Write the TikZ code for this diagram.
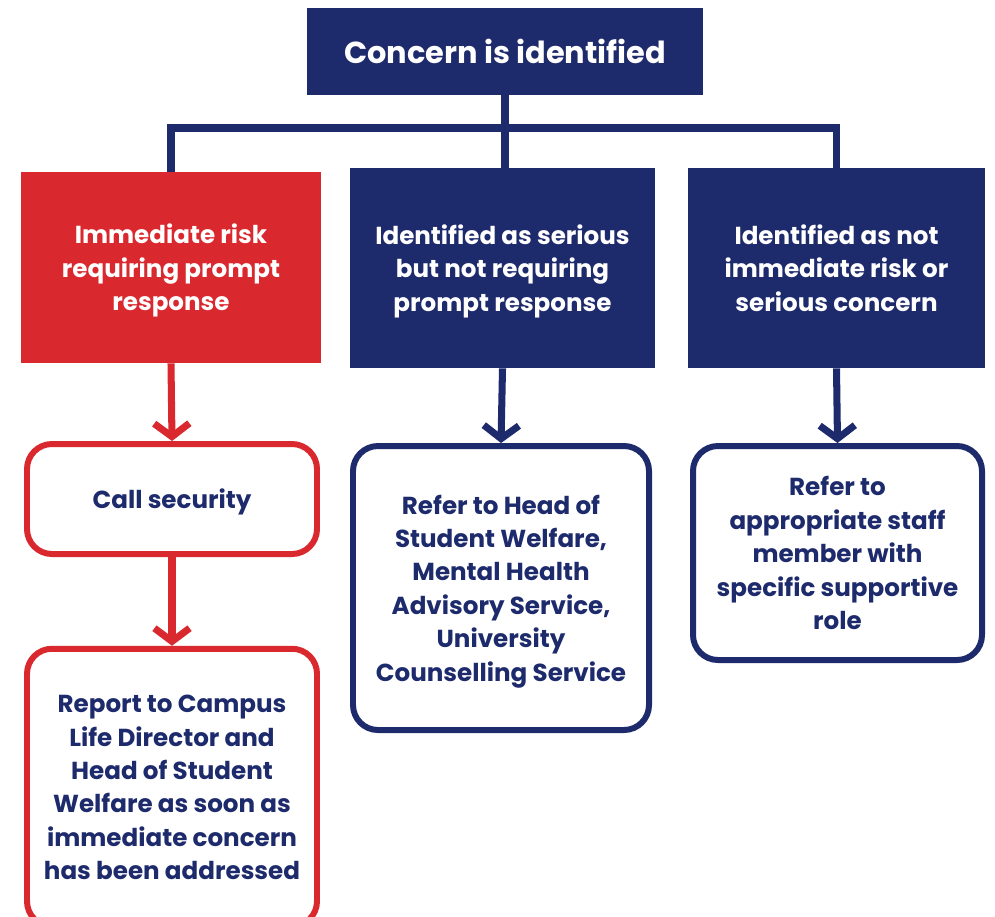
\documentclass[tikz,border=0pt]{standalone}
\usepackage{fontspec}
\setmainfont{Poppins}
\usetikzlibrary{arrows.meta,positioning}
\definecolor{navy}{HTML}{1D2A6B}
\definecolor{alarm}{HTML}{D9282E}

\begin{document}
\begin{tikzpicture}[
    every node/.style={align=center,font=\bfseries\fontsize{14}{19}\selectfont,inner sep=0pt},
    head/.style={fill=navy,text=white,minimum width=7.92cm,minimum height=1.74cm},
    lowered/.style={text depth=-2pt},
    level/.style={lowered,fill=#1,text=white,minimum height=4cm},
    action/.style={lowered,draw=#1,line width=3.4pt,rounded corners=0.5cm,fill=white,text=navy},
    link/.style={draw=navy,line width=4.4pt},
    arrow/.style={draw=#1,line width=4pt,-{Straight Barb[length=7.5pt,width=20pt,line width=4pt]}}
]
    \useasboundingbox (0,0) rectangle (19.9,-18.32);

    \node[head,font=\bfseries\fontsize{17.3}{22}\selectfont] (concern) at (10.1,-1.03) {Concern is identified};

    \node[level=alarm,minimum width=6cm,minimum height=3.82cm] (risk) at (3.42,-5.35)
        {Immediate risk\\requiring prompt\\response};
    \node[level=navy,minimum width=6.1cm] (serious) at (10.05,-5.36)
        {Identified as serious\\but not requiring\\prompt response};
    \node[level=navy,minimum width=5.94cm] (minor) at (16.73,-5.36)
        {Identified as not\\immediate risk or\\serious concern};

    \node[action=alarm,minimum width=5.8cm,minimum height=2.2cm] (security) at (3.44,-9.98)
        {Call security};
    \node[action=alarm,minimum width=5.8cm,minimum height=5.55cm] (report) at (3.44,-15.75)
        {Report to Campus\\Life Director and\\Head of Student\\Welfare as soon as\\immediate concern\\has been addressed};
    \node[action=navy,minimum width=5.92cm,minimum height=5.68cm] (welfare) at (10.02,-11.76)
        {Refer to Head of\\Student Welfare,\\Mental Health\\Advisory Service,\\University\\Counselling Service};
    \node[action=navy,minimum width=5.78cm,minimum height=4.28cm] (staff) at (16.75,-11.06)
        {Refer to\\appropriate staff\\member with\\specific supportive\\role};

    % tree from the top box
    \coordinate (bar) at (10.1,-2.56);
    \draw[link] (concern.south) -- (concern.south |- serious.north);
    \draw[link] (risk.north) |- (bar) -| (minor.north);

    % arrows down to the actions
    \draw[arrow=alarm] (risk.south) -- (security.north);
    \draw[arrow=alarm] (security.south) -- (report.north);
    \draw[arrow=navy] (serious.south) -- (welfare.north);
    \draw[arrow=navy] (minor.south) -- (staff.north);
\end{tikzpicture}
\end{document}
